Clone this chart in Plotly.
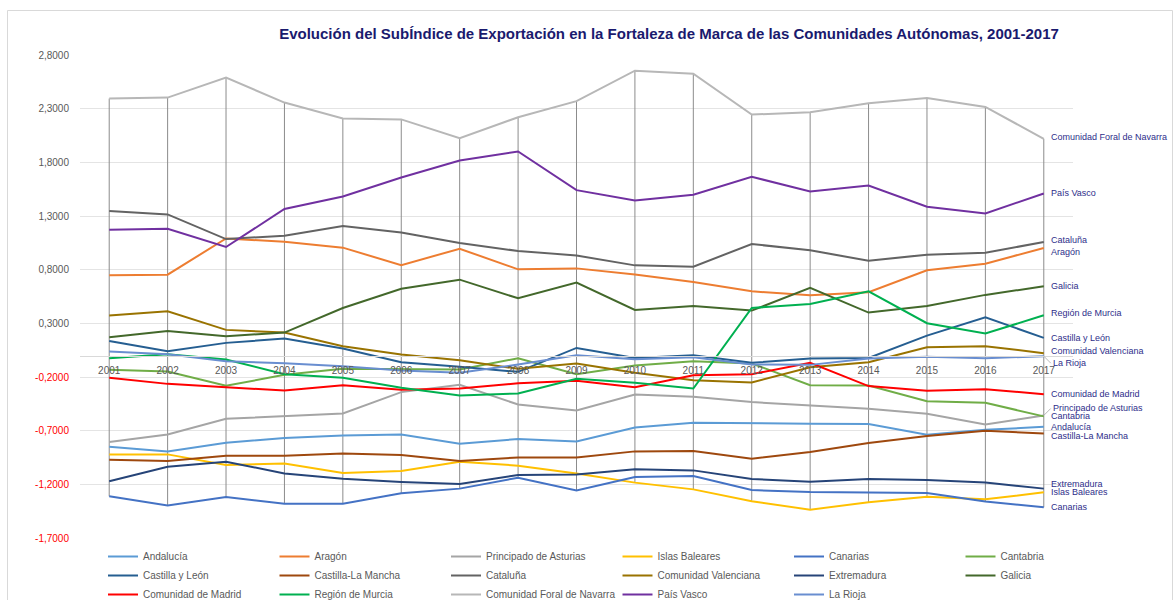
import plotly.graph_objects as go

# ---- data -------------------------------------------------------------
years = list(range(2001, 2018))

andalucia = [-0.850, -0.893, -0.812, -0.769, -0.744, -0.735, -0.822, -0.778, -0.801,
             -0.670, -0.626, -0.633, -0.636, -0.639, -0.738, -0.692, -0.664]
aragon = [0.747, 0.753, 1.091, 1.060, 1.005, 0.842, 0.995, 0.803, 0.812,
          0.756, 0.685, 0.598, 0.561, 0.589, 0.794, 0.856, 1.002]
asturias = [-0.806, -0.735, -0.589, -0.564, -0.540, -0.341, -0.273, -0.456, -0.512,
            -0.363, -0.384, -0.434, -0.465, -0.496, -0.543, -0.642, -0.558]
baleares = [-0.921, -0.921, -1.020, -1.005, -1.095, -1.076, -0.989, -1.026, -1.100,
            -1.184, -1.247, -1.358, -1.436, -1.367, -1.315, -1.340, -1.274]
canarias = [-1.312, -1.398, -1.318, -1.380, -1.380, -1.284, -1.240, -1.138, -1.257,
            -1.132, -1.123, -1.253, -1.272, -1.274, -1.281, -1.361, -1.414]
cantabria = [-0.133, -0.149, -0.282, -0.180, -0.124, -0.127, -0.130, -0.025, -0.175,
             -0.093, -0.053, -0.074, -0.276, -0.279, -0.425, -0.440, -0.567]
castilla_leon = [0.136, 0.040, 0.118, 0.158, 0.065, -0.062, -0.105, -0.152, 0.071,
                 -0.022, 0.003, -0.068, -0.028, -0.022, 0.186, 0.357, 0.164]
castilla_mancha = [-0.971, -0.983, -0.933, -0.933, -0.912, -0.927, -0.983, -0.949, -0.949,
                   -0.893, -0.890, -0.961, -0.899, -0.815, -0.750, -0.701, -0.726]
cataluna = [1.346, 1.315, 1.085, 1.116, 1.206, 1.147, 1.048, 0.974, 0.933,
            0.840, 0.828, 1.039, 0.980, 0.884, 0.940, 0.958, 1.057]
valenciana = [0.372, 0.412, 0.239, 0.214, 0.087, 0.009, -0.043, -0.124, -0.074,
              -0.161, -0.230, -0.251, -0.109, -0.062, 0.078, 0.087, 0.022]
extremadura = [-1.172, -1.036, -0.989, -1.098, -1.147, -1.178, -1.197, -1.113, -1.108,
               -1.060, -1.070, -1.150, -1.175, -1.150, -1.160, -1.184, -1.240]
galicia = [0.170, 0.229, 0.180, 0.214, 0.443, 0.622, 0.707, 0.533, 0.679,
           0.425, 0.462, 0.419, 0.630, 0.400, 0.462, 0.565, 0.645]
madrid = [-0.208, -0.264, -0.295, -0.326, -0.276, -0.319, -0.307, -0.258, -0.236,
          -0.295, -0.183, -0.174, -0.068, -0.285, -0.329, -0.313, -0.360]
murcia = [-0.025, 0.012, -0.037, -0.174, -0.208, -0.301, -0.372, -0.353, -0.217,
          -0.254, -0.307, 0.443, 0.481, 0.598, 0.301, 0.205, 0.375]
navarra = [2.394, 2.403, 2.589, 2.357, 2.208, 2.200, 2.025, 2.220, 2.370,
           2.654, 2.626, 2.245, 2.267, 2.350, 2.400, 2.316, 2.019]
pais_vasco = [1.172, 1.181, 1.011, 1.365, 1.482, 1.659, 1.817, 1.901, 1.541,
              1.445, 1.498, 1.665, 1.529, 1.584, 1.386, 1.324, 1.510]
la_rioja = [0.037, 0.012, -0.053, -0.071, -0.099, -0.140, -0.161, -0.084, 0.003,
            -0.034, -0.016, -0.084, -0.087, -0.028, -0.012, -0.025, -0.006]

y_ticks = [2.8, 2.3, 1.8, 1.3, 0.8, 0.3, -0.2, -0.7, -1.2, -1.7]

# ---- series table: (name, values, colour, legend column, label nudge px) ----
series = [
    ("Andalucía", andalucia, "#5B9BD5", 1, 0),
    ("Aragón", aragon, "#ED7D31", 2, -4),
    ("Principado de Asturias", asturias, "#A5A5A5", 3, 7),
    ("Islas Baleares", baleares, "#FFC000", 4, 0),
    ("Canarias", canarias, "#4472C4", 5, 0),
    ("Cantabria", cantabria, "#70AD47", 6, 0),
    ("Castilla y León", castilla_leon, "#255E91", 1, 0),
    ("Castilla-La Mancha", castilla_mancha, "#9E480E", 2, -3),
    ("Cataluña", cataluna, "#636363", 3, 2),
    ("Comunidad Valenciana", valenciana, "#997300", 4, 2),
    ("Extremadura", extremadura, "#264478", 5, 5),
    ("Galicia", galicia, "#43682B", 6, 0),
    ("Comunidad de Madrid", madrid, "#FF0000", 1, 0),
    ("Región de Murcia", murcia, "#00B050", 2, 2),
    ("Comunidad Foral de Navarra", navarra, "#B7B7B7", 3, 2),
    ("País Vasco", pais_vasco, "#7030A0", 4, 0),
    ("La Rioja", la_rioja, "#698ED0", 5, -7),
]
leader_labels = {"La Rioja", "Principado de Asturias"}

Y_MIN, Y_MAX = -1.7, 2.8
L, R, T, B = 80, 100, 55, 62
W, H = 1173, 600
plot_w = W - L - R
plot_h = H - T - B

LABEL_FONT = dict(family="Liberation Sans", size=9, color="#2E2E8A")

fig = go.Figure()

# high-low lines: one vertical segment per year from the lowest to the highest series
hl_x, hl_y = [], []
for i, yr in enumerate(years):
    col = [s[1][i] for s in series]
    hl_x += [yr, yr, None]
    hl_y += [min(col), max(col), None]
fig.add_trace(go.Scatter(x=hl_x, y=hl_y, mode="lines", showlegend=False,
                         hoverinfo="skip", line=dict(color="#8C8C8C", width=1)))

for name, vals, color, col, _ in series:
    fig.add_trace(go.Scatter(
        x=years, y=vals, name=name, mode="lines",
        line=dict(color=color, width=2),
        legend="legend" if col == 1 else f"legend{col}",
    ))

# end-of-line labels
annotations = []
for name, vals, color, col, nudge in series:
    if name in leader_labels:
        annotations.append(dict(
            x=years[-1], y=vals[-1], xref="x", yref="y", text=name,
            showarrow=True, arrowhead=0, arrowwidth=0.8, arrowcolor="#A6A6A6",
            ax=7, ay=-nudge, xanchor="left", yanchor="middle",
            font=LABEL_FONT,
        ))
    else:
        annotations.append(dict(
            x=years[-1], y=vals[-1], xref="x", yref="y", text=name,
            showarrow=False, xanchor="left", yanchor="middle",
            xshift=5, yshift=nudge, font=LABEL_FONT,
        ))

# legends: six columns of three entries
legend_text_x = [145, 316.5, 488, 659.5, 831, 1002.5]
legend_cfg = {}
for c in range(1, 7):
    key = "legend" if c == 1 else f"legend{c}"
    legend_cfg[key] = dict(
        orientation="v",
        x=(legend_text_x[c - 1] - 42 - L) / plot_w,
        xanchor="left",
        y=-(542 - (H - B)) / plot_h,
        yanchor="top",
        bgcolor="rgba(0,0,0,0)",
        font=dict(family="Liberation Sans", size=10, color="#595959"),
        tracegroupgap=0,
        itemclick=False,
    )

tick_text = []
for v in y_ticks:
    s = f"{v:.4f}".replace(".", ",")
    tick_text.append(f"<span style='color:#FF0000'>{s}</span>" if v < 0 else s)

fig.update_layout(
    width=W, height=H,
    margin=dict(l=L, r=R, t=T, b=B, autoexpand=False),
    paper_bgcolor="white", plot_bgcolor="white",
    font=dict(family="Liberation Sans", size=10, color="#595959"),
    title=dict(
        text="Evolución del SubÍndice de Exportación en la Fortaleza de Marca de las Comunidades Autónomas, 2001-2017",
        x=669 / W, xref="container", xanchor="center",
        y=1 - 34 / H, yref="container", yanchor="middle",
        font=dict(family="Liberation Sans", size=15, color="#1A1A6E", weight="bold"),
    ),
    xaxis=dict(
        range=[years[0] - 0.5, years[-1] + 0.5],
        tickvals=years, ticktext=[str(y) for y in years],
        anchor="free", position=(0 - Y_MIN) / (Y_MAX - Y_MIN),
        showgrid=False, zeroline=False,
        showline=True, linecolor="#D9D9D9", linewidth=1,
        ticks="", tickfont=dict(size=10, color="#595959"),
        ticklabelstandoff=5,
    ),
    yaxis=dict(
        range=[Y_MIN, Y_MAX], tickvals=y_ticks, ticktext=tick_text,
        showgrid=True, gridcolor="#E4E4E4", gridwidth=1,
        zeroline=False, showline=False, ticks="",
        tickfont=dict(size=10, color="#595959"),
        ticklabelstandoff=10,
    ),
    annotations=annotations,
    shapes=[dict(type="rect", xref="paper", yref="paper",
                 x0=(7.5 - L) / plot_w, x1=(1172.5 - L) / plot_w,
                 y0=-(605 - (H - B)) / plot_h, y1=1 + (T - 10.5) / plot_h,
                 line=dict(color="#D9D9D9", width=1), layer="below")],
    **legend_cfg,
)

fig.write_html("out.html")
